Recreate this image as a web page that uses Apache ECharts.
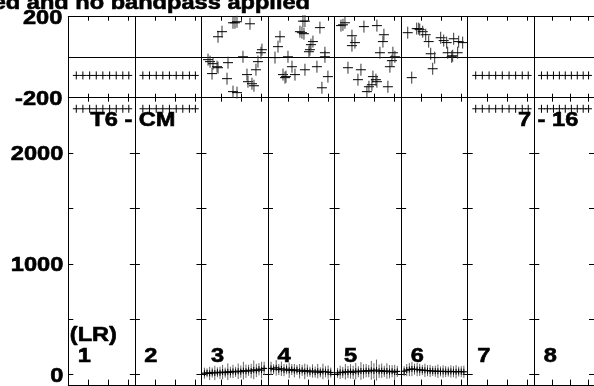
<!DOCTYPE html>
<html><head><meta charset="utf-8">
<script src="https://cdn.jsdelivr.net/npm/echarts@6/dist/echarts.min.js"></script>
<style>html,body{margin:0;padding:0;background:#fff;overflow:hidden}#c{width:594px;height:386px}</style>
</head><body><div id="c"></div>
<script>
// ---- data ----
const titleText = 'ed and no bandpass applied';
const panelNames = ['1', '2', '3', '4', '5', '6', '7', '8'];
const polLabel = '(LR)';
const baselineLabels = ['T6 - CM', '7 - 16'];
const phaseTickLabels = [200, -200];
const ampTickLabels = [0, 1000, 2000];
const ampTickValues = [0, 500, 1000, 1500, 2000];

const flaggedPanels = [0, 1, 6, 7];
const flaggedCh = [4, 7.3, 10.7, 14, 17.3, 20.7, 24, 27.3, 30.3];
const flaggedPhase = -90;
const flaggedAmp = 2400;

const phase3 = [[3.3,-12],[4.3,-22],[5.3,-81],[5.8,-32],[7.8,-47],[8.3,-52],[8.3,101],[10.3,126],[12.8,-106],[13.3,-27],[15.8,170],[15.8,-170],[16.8,170],[17.8,175],[17.8,-175],[20.8,2],[22.8,-86],[23.3,-121],[24.3,165],[25.3,-131],[26.3,-141],[27.3,-62],[28.3,-22],[29.8,22],[30.3,37]];
const phase4 = [[3.5,-2],[5,52],[6,101],[7.5,-86],[8.5,-101],[9,-96],[10,2],[12,-47],[13.5,-86],[16,126],[17,121],[17.5,178],[18,116],[18.5,178],[18.5,-62],[20.5,27],[21,37],[21.5,62],[22.5,77],[24.5,-47],[26,146],[27,-151],[28.5,22],[28.5,2],[30,-96]];
const phase5 = [[3.2,156],[4.2,160],[5.2,170],[6.7,-52],[8.7,106],[8.7,57],[10.2,72],[11.7,-111],[13.2,-62],[14.7,151],[16.2,-170],[17.2,-146],[18.7,-136],[19.2,-96],[20.7,-111],[21.2,156],[21.2,-121],[22.7,22],[24.2,77],[24.7,111],[26.7,-146],[27.7,-47],[28.7,-17],[29.2,22],[30.2,2]];
const phase6 = [[3.3,121],[5.3,-101],[7.8,141],[8.8,141],[9.3,136],[10.8,126],[12.3,111],[13.8,77],[14.8,17],[15.8,-57],[16.8,-2],[19.8,96],[21.3,82],[22.8,72],[23.3,22],[25.3,2],[25.8,7],[26.3,91],[28.3,22],[28.8,77],[30.8,72]];

const ampCh = [1.5,2.8,4.1,5.4,6.7,8,9.3,10.6,11.9,13.2,14.5,15.8,17.1,18.4,19.7,21,22.3,23.6,24.9,26.2,27.5,28.8,30.1,31.4];
const amp3 = [12,15,10,18,14,20,16,22,18,25,20,28,24,30,26,35,30,38,32,42,36,48,40,55];
const err3 = [50,40,60,45,65,45,55,65,45,75,50,60,45,70,55,80,60,50,65,85,60,55,75,60];
const amp4 = [55,48,60,45,52,40,48,38,45,35,42,30,38,28,35,25,32,22,30,20,28,25,22,18];
const err4 = [60,45,70,50,65,55,45,70,50,60,45,65,50,70,55,45,60,50,65,45,70,50,60,45];
const amp5 = [15,20,18,25,22,28,20,30,25,32,28,35,30,38,32,40,30,35,28,32,25,30,22,28];
const err5 = [45,60,50,70,55,65,60,75,50,80,65,60,55,85,70,95,60,65,50,70,60,55,65,50];
const amp6 = [30,40,45,50,48,45,42,40,38,35,33,32,30,30,28,28,27,26,28,26,25,27,26,25];
const err6 = [45,55,60,65,50,60,55,45,60,50,55,45,50,60,45,55,50,45,55,50,60,45,50,55];

// ---- layout ----
const P_LEFT = 68.3, P_W = 66.57;
const PH_TOP = 16.7, PH_H = 81;
const AM_TOP = PH_TOP + PH_H, AM_H = 287.9;
const FONT = 'bold 20px "Liberation Sans", Arial, sans-serif';
const SX = 1.18;

const chart = echarts.init(document.getElementById('c'), null, {renderer: 'canvas'});

const grids = [], xAxes = [], yAxes = [], series = [];
for (let r = 0; r < 2; r++) {
  for (let p = 0; p < 8; p++) {
    const g = r * 8 + p;
    grids.push({left: P_LEFT + p * P_W, width: P_W, top: r ? AM_TOP : PH_TOP, height: r ? AM_H : PH_H, containLabel: false});
    ['bottom', 'top'].forEach(pos => {
      xAxes.push({
        type: 'value', gridIndex: g, position: pos, min: 0, max: 100 / 3, interval: 10,
        axisLine: {show: !(r === 1 && pos === 'top'), onZero: false, lineStyle: {color: '#000', width: 1}},
        axisTick: {show: true, inside: true, length: (r === 1 && pos === 'bottom') ? 6 : 4, lineStyle: {color: '#000'}},
        axisLabel: {show: false}, splitLine: {show: false}
      });
    });
    ['left', 'right'].forEach(pos => {
      if (r === 0) {
        yAxes.push({
          type: 'value', gridIndex: g, position: pos, min: -200, max: 200, interval: 200,
          axisLine: {show: true, onZero: false, lineStyle: {color: '#000', width: 1}},
          axisTick: {show: false}, axisLabel: {show: false},
          splitLine: {show: pos === 'left', lineStyle: {color: '#000', width: 1}}
        });
      } else {
        yAxes.push({
          type: 'value', gridIndex: g, position: pos, min: -100, max: 2500,
          axisLine: {show: true, onZero: false, lineStyle: {color: '#000', width: 1}},
          axisTick: {show: true, inside: true, length: 5, customValues: ampTickValues, lineStyle: {color: '#000'}},
          axisLabel: {show: false}, splitLine: {show: false}
        });
      }
    });
  }
}

function crossRender(hw, vh, vcol) {
  return function (params, api) {
    const c = api.coord([api.value(0), api.value(1)]);
    return {type: 'group', children: [
      {type: 'line', shape: {x1: c[0], y1: c[1] - vh, x2: c[0], y2: c[1] + vh}, style: {stroke: vcol, lineWidth: 1}},
      {type: 'line', shape: {x1: c[0] - hw, y1: c[1], x2: c[0] + hw, y2: c[1]}, style: {stroke: '#000', lineWidth: 1}}
    ]};
  };
}
function ampRender(params, api) {
  const ch = api.value(0), a = api.value(1), e = api.value(2);
  const c = api.coord([ch, a]);
  const lo = api.coord([ch, a - e]), hi = api.coord([ch, a + e]);
  return {type: 'group', children: [
    {type: 'line', shape: {x1: c[0], y1: hi[1], x2: c[0], y2: lo[1]}, style: {stroke: '#666', lineWidth: 1}},
    {type: 'line', shape: {x1: c[0], y1: c[1] - 3, x2: c[0], y2: c[1] + 3}, style: {stroke: '#000', lineWidth: 1}},
    {type: 'line', shape: {x1: c[0] - 3, y1: c[1], x2: c[0] + 3, y2: c[1]}, style: {stroke: '#000', lineWidth: 1.2}}
  ]};
}

// flagged rows (panels 1,2,7,8)
flaggedPanels.forEach(p => {
  series.push({type: 'custom', xAxisIndex: 2 * p, yAxisIndex: 2 * p, renderItem: crossRender(3.4, 4, '#000'),
    data: flaggedCh.map(c => [c, flaggedPhase]), clip: false, silent: true});
  series.push({type: 'custom', xAxisIndex: 2 * (8 + p), yAxisIndex: 2 * (8 + p), renderItem: crossRender(3.4, 4, '#000'),
    data: flaggedCh.map(c => [c, flaggedAmp]), clip: false, silent: true});
});
// phase points
[[2, phase3], [3, phase4], [4, phase5], [5, phase6]].forEach(([p, d]) => {
  series.push({type: 'custom', xAxisIndex: 2 * p, yAxisIndex: 2 * p, renderItem: crossRender(5, 6, '#333'),
    data: d, clip: false, silent: true});
});
// amplitude points
[[2, amp3, err3], [3, amp4, err4], [4, amp5, err5], [5, amp6, err6]].forEach(([p, a, e]) => {
  series.push({type: 'custom', xAxisIndex: 2 * (8 + p), yAxisIndex: 2 * (8 + p), renderItem: ampRender,
    data: ampCh.map((c, i) => [c, a[i], e[i]]), clip: false, silent: true});
});

chart.setOption({animation: false, backgroundColor: '#fff', grid: grids, xAxis: xAxes, yAxis: yAxes, series: series});

// ---- text, positioned through the axes ----
function txt(x, y, s, align) {
  return {type: 'text', x: x, y: y, scaleX: SX, originX: 0, originY: 0, silent: true,
    style: {text: s, x: 0, y: 0, font: FONT, fill: '#000', stroke: '#000', lineWidth: 0.6,
      textAlign: align || 'left', textVerticalAlign: 'middle'}};
}
const g = [];
g.push(txt(310, 3, titleText, 'right'));
phaseTickLabels.forEach(v => {
  const pt = chart.convertToPixel({xAxisIndex: 0, yAxisIndex: 0}, [0, v]);
  g.push(txt(pt[0] - 6, pt[1] + 2, String(v), 'right'));
});
ampTickLabels.forEach(v => {
  const pt = chart.convertToPixel({xAxisIndex: 16, yAxisIndex: 16}, [0, v]);
  g.push(txt(pt[0] - 5, pt[1] + 1.5, String(v), 'right'));
});
panelNames.forEach((n, p) => {
  const pt = chart.convertToPixel({xAxisIndex: 2 * (8 + p), yAxisIndex: 2 * (8 + p)}, [0, 160]);
  g.push(txt(pt[0] + 9.5, pt[1], n, 'left'));
});
{
  const pt = chart.convertToPixel({xAxisIndex: 16, yAxisIndex: 16}, [0, 355]);
  g.push(txt(pt[0] + 1.5, pt[1], polLabel, 'left'));
  const a = chart.convertToPixel({xAxisIndex: 16, yAxisIndex: 16}, [0, 2290]);
  g.push(txt(a[0] + 22, a[1], baselineLabels[0], 'left'));
  const b = chart.convertToPixel({xAxisIndex: 30, yAxisIndex: 30}, [0, 2290]);
  g.push(txt(b[0] + 44, b[1], baselineLabels[1], 'right'));
}
chart.setOption({graphic: {elements: g}});
</script></body></html>
